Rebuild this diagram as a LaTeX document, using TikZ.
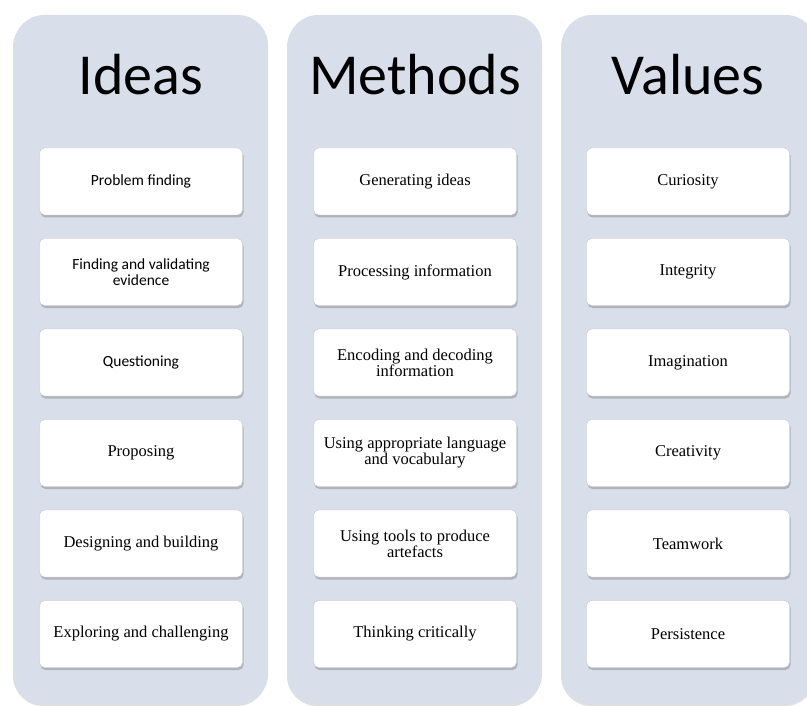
\documentclass[tikz,border=0pt]{standalone}
\usepackage{fontspec}
\setmainfont{Liberation Serif}
\newfontfamily\headfont{Carlito}
\usetikzlibrary{shadows}
\definecolor{panelblue}{HTML}{D9DEEB}

\begin{document}
\begin{tikzpicture}[x=1pt,y=-1pt,
  panel/.style={fill=panelblue,rounded corners=30pt,minimum width=254pt,minimum height=689pt,
    drop shadow={shadow xshift=-1pt,shadow yshift=-2pt,opacity=0.25}},
  heading/.style={anchor=base,font=\headfont\fontsize{58}{60}\selectfont},
  item/.style={draw=gray!45,fill=white,rounded corners=5pt,minimum width=203pt,minimum height=67pt,
    align=center,inner sep=2pt,font=\fontsize{16.5}{16}\selectfont,
    drop shadow={shadow xshift=1pt,shadow yshift=-2.5pt,opacity=0.45}},
  sansitem/.style={item,font=\headfont\fontsize{15.5}{16}\selectfont}]
\useasboundingbox (0,0) rectangle (807,706);
\clip (0,0) rectangle (807,706);

% the three columns
\node[panel] (ideas) at (141,359.5) {};
\node[panel] (methods) at (415,359.5) {};
\node[panel] (values) at (689,359.5) {};

\node[heading] (ideashead) at (141,95) {Ideas};
\node[heading] (methodshead) at (415,95) {Methods};
\node[heading] (valueshead) at (688,95) {Values};

% Ideas
\node[sansitem] (i1) at (141,181.5) {Problem finding};
\node[sansitem] (i2) at (141,272) {Finding and validating\\evidence};
\node[sansitem] (i3) at (141,362.5) {Questioning};
\node[item] (i4) at (141,453) {Proposing};
\node[item] (i5) at (141,543.5) {Designing and building};
\node[item] (i6) at (141,634) {Exploring and challenging};

% Methods
\node[item] (m1) at (415,181.5) {Generating ideas};
\node[item] (m2) at (415,272) {Processing information};
\node[item] (m3) at (415,362.5) {Encoding and decoding\\information};
\node[item] (m4) at (415,453) {Using appropriate language\\and vocabulary};
\node[item] (m5) at (415,543.5) {Using tools to produce\\artefacts};
\node[item] (m6) at (415,634) {Thinking critically};

% Values
\node[item] (v1) at (688,181.5) {Curiosity};
\node[item] (v2) at (688,272) {Integrity};
\node[item] (v3) at (688,362.5) {Imagination};
\node[item] (v4) at (688,453) {Creativity};
\node[item] (v5) at (688,543.5) {Teamwork};
\node[item] (v6) at (688,634) {Persistence};
\end{tikzpicture}
\end{document}
